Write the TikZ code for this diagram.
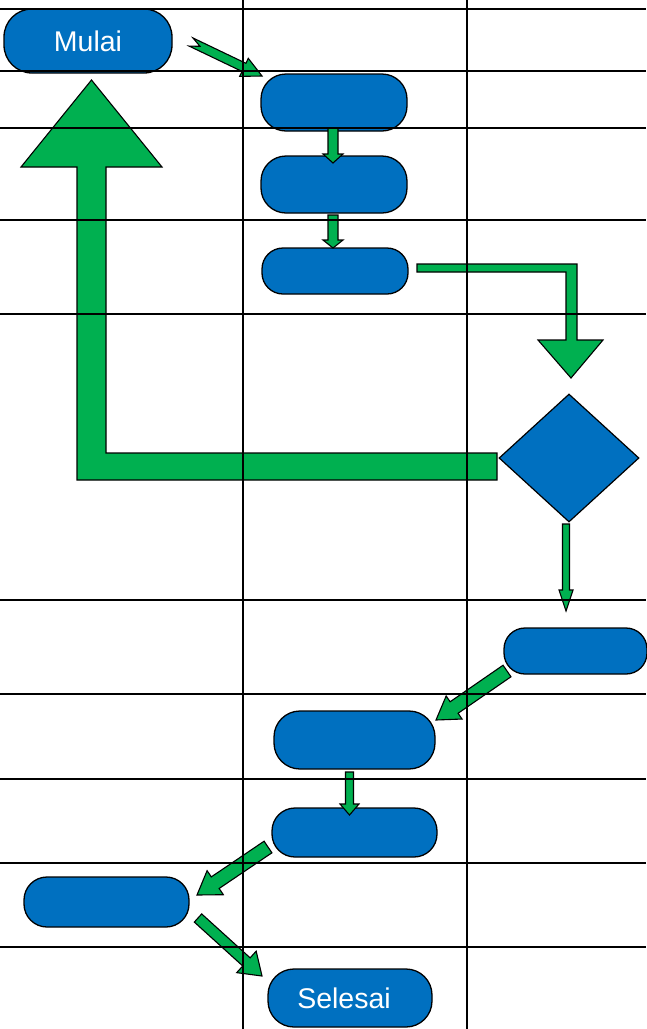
\documentclass[tikz,border=0pt]{standalone}
\usepackage{fontspec}
\setmainfont{Liberation Sans}
\usetikzlibrary{calc,shapes.geometric}
\definecolor{boxblue}{RGB}{0,112,192}
\definecolor{arrgreen}{RGB}{0,176,80}
\tikzset{
  proc/.style={draw=black,line width=1.3pt,fill=boxblue,rectangle,inner sep=0pt,text=white,font=\fontsize{28.5}{34}\selectfont},
  decision/.style={draw=black,line width=1.2pt,fill=boxblue,diamond,inner sep=0pt},
  blockarrow/.style={draw=black,line width=1.1pt,fill=arrgreen,line join=miter},
  gridline/.style={draw=black,line width=1.8pt}
}
% #1 start, #2 end, #3 half shaft, #4 half head, #5 head length
\newcommand\myblockarr[5]{%
  \coordinate (ba-h) at ($(#2)!#5!(#1)$);
  \draw[blockarrow] ($(#1)!#3!90:(#2)$) -- ($(ba-h)!#3!-90:(#1)$) -- ($(ba-h)!#4!-90:(#1)$) -- (#2)
    -- ($(ba-h)!#4!90:(#1)$) -- ($(ba-h)!#3!90:(#1)$) -- ($(#1)!#3!-90:(#2)$) -- cycle;}
% notched variant, #6 notch depth
\newcommand\mynotcharr[6]{%
  \coordinate (ba-h) at ($(#2)!#5!(#1)$);
  \draw[blockarrow] ($(#1)!#3!90:(#2)$) -- ($(ba-h)!#3!-90:(#1)$) -- ($(ba-h)!#4!-90:(#1)$) -- (#2)
    -- ($(ba-h)!#4!90:(#1)$) -- ($(ba-h)!#3!90:(#1)$) -- ($(#1)!#3!-90:(#2)$) -- ($(#1)!#6!(#2)$) -- cycle;}
\begin{document}
\begin{tikzpicture}[x=1pt,y=-1pt]
\useasboundingbox (0,0) rectangle (646,1029);
% nodes
\node[proc,minimum width=168pt,minimum height=64pt,rounded corners=28pt] (mulai) at (88,41) {Mulai};
\node[proc,minimum width=146pt,minimum height=57pt,rounded corners=25pt] (b2) at (334,102.5) {};
\node[proc,minimum width=146pt,minimum height=57pt,rounded corners=25pt] (b3) at (334,184.5) {};
\node[proc,minimum width=146pt,minimum height=46pt,rounded corners=21pt] (b4) at (335,271) {};
\node[decision,minimum width=140pt,minimum height=128pt,aspect=1.09] (dec) at (569,458) {};
\node[proc,minimum width=143pt,minimum height=46pt,rounded corners=21pt] (b5) at (575.5,651) {};
\node[proc,minimum width=161pt,minimum height=58pt,rounded corners=26pt] (b6) at (354.5,740) {};
\node[proc,minimum width=165pt,minimum height=49pt,rounded corners=23pt] (b7) at (354.5,832.5) {};
\node[proc,minimum width=165pt,minimum height=50pt,rounded corners=23pt] (b8) at (106.5,902) {};
\node[proc,minimum width=164pt,minimum height=58pt,rounded corners=26pt] (b9) at (350,998) {Selesai\hspace*{12pt}};
% arrow end points
\coordinate (a1s) at (191,42);   \coordinate (a1e) at (262,76);
\coordinate (a2s) at (333,128);  \coordinate (a2e) at (333,163);
\coordinate (a3s) at (333,215);  \coordinate (a3e) at (333,248);
\coordinate (a6s) at (566,524);  \coordinate (a6e) at (566,611);
\coordinate (a7s) at (507,671);  \coordinate (a7e) at (436,720);
\coordinate (a8s) at (349.5,772);\coordinate (a8e) at (349.5,815);
\coordinate (a9s) at (268,847);  \coordinate (a9e) at (197,895);
\coordinate (a10s) at (198,918); \coordinate (a10e) at (262,976);
% arrows
\mynotcharr{a1s}{a1e}{4.5pt}{10pt}{20pt}{10pt}
\myblockarr{a2s}{a2e}{5pt}{10pt}{9pt}
\myblockarr{a3s}{a3e}{5pt}{10pt}{8pt}
\myblockarr{a6s}{a6e}{3.5pt}{7pt}{21pt}
\myblockarr{a7s}{a7e}{7pt}{14pt}{22pt}
\myblockarr{a8s}{a8e}{4pt}{9.5pt}{11pt}
\myblockarr{a9s}{a9e}{7pt}{14.5pt}{22pt}
\myblockarr{a10s}{a10e}{5.5pt}{14.5pt}{21pt}
% bent arrow from b4 to decision
\coordinate (a4s) at (417,268);
\coordinate (a4e) at (571,378);
\draw[blockarrow] ($(a4s)+(0,-4)$) -- (577,264) -- (577,340) -- (603,340) -- (a4e)
  -- (538,340) -- (566,340) -- (566,272) -- ($(a4s)+(0,4)$) -- cycle;
% big return arrow from decision to Mulai
\coordinate (a5s) at (497,466.5);
\coordinate (a5e) at (91.5,80);
\draw[blockarrow] ($(a5s)+(0,-13.5)$) -- (106,453) -- (106,167) -- (162,167) -- (a5e)
  -- (21,167) -- (77,167) -- (77,480) -- ($(a5s)+(0,13.5)$) -- cycle;
% grid on top
\foreach \yy in {9,71,128,220,314,600,694,779,863,947}
  \draw[gridline] (0,\yy) -- (646,\yy);
\foreach \xx in {243,467}
  \draw[gridline] (\xx,0) -- (\xx,1029);
\end{tikzpicture}
\end{document}
